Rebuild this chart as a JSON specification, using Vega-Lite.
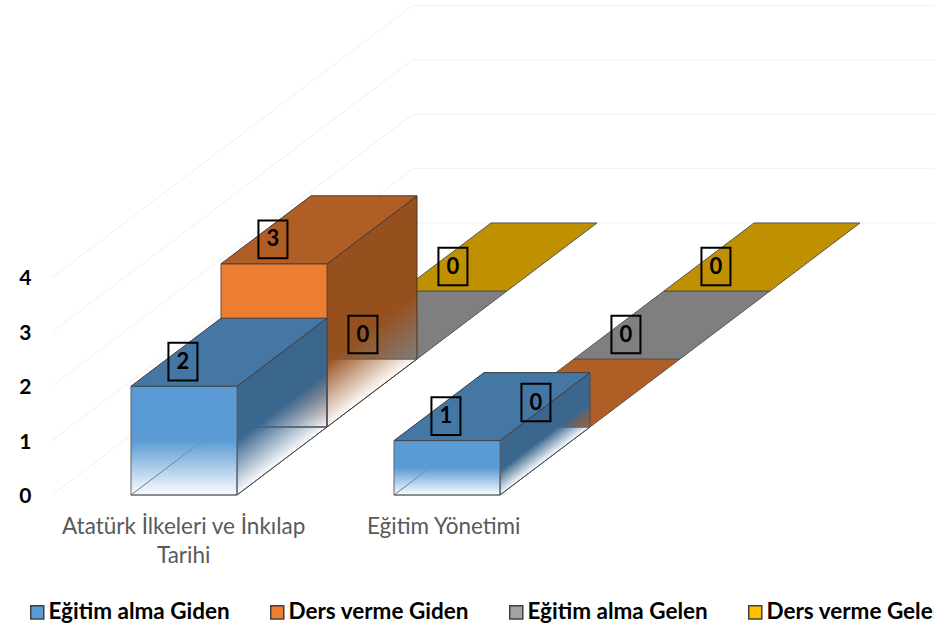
{
"$schema":"https://vega.github.io/schema/vega-lite/v6.json",
"width":884,"height":495,
"autosize":"none",
"padding":{"left":50,"top":0,"right":0,"bottom":134},
"background":"white",
"config":{"view":{"stroke":null}},
"data":{"values":[
{"category":"Atatürk İlkeleri ve İnkılap Tarihi","series":"Eğitim alma Giden","value":2},
{"category":"Atatürk İlkeleri ve İnkılap Tarihi","series":"Ders verme Giden","value":3},
{"category":"Atatürk İlkeleri ve İnkılap Tarihi","series":"Eğitim alma Gelen","value":0},
{"category":"Atatürk İlkeleri ve İnkılap Tarihi","series":"Ders verme Gelen","value":0},
{"category":"Eğitim Yönetimi","series":"Eğitim alma Giden","value":1},
{"category":"Eğitim Yönetimi","series":"Ders verme Giden","value":0},
{"category":"Eğitim Yönetimi","series":"Eğitim alma Gelen","value":0},
{"category":"Eğitim Yönetimi","series":"Ders verme Gelen","value":0}
]},
"transform":[
{"calculate":"indexof(['Atatürk İlkeleri ve İnkılap Tarihi','Eğitim Yönetimi'],datum.category)","as":"cat"},
{"calculate":"indexof(['Eğitim alma Giden','Ders verme Giden','Eğitim alma Gelen','Ders verme Gelen'],datum.series)","as":"dep"},
{"calculate":"datum.cat*2.481+datum.dep*0.849","as":"x0"},
{"calculate":"datum.dep*1.25","as":"base"},
{"calculate":"datum.base+datum.value","as":"topv"},
{"calculate":"[0,1]","as":"t"},
{"flatten":["t"]}
],
"encoding":{
"x":{"field":"px","type":"quantitative","stack":null,"scale":{"domain":[-0.764,7.575],"nice":false,"zero":false},"axis":null},
"y":{"field":"py","type":"quantitative","stack":null,"scale":{"domain":[0,9.099],"nice":false,"zero":false},
"axis":{"values":[0,1,2,3,4],"title":null,"domain":false,"ticks":false,"grid":false,"labelFont":"Lato","labelFontSize":21,"labelFontWeight":"bold","labelColor":"#000000","labelPadding":19,"labelOffset":1.5,"format":"d"}}
},
"resolve":{"scale":{"color":"independent"}},
"layer":[
{"data":{"values":[{"tick":0},{"tick":1},{"tick":2},{"tick":3},{"tick":4}]},
"transform":[
{"calculate":"[-0.745,2.66,7.575]","as":"px"},
{"calculate":"[datum.tick,datum.tick+5,datum.tick+5]","as":"py"},
{"flatten":["px","py"]}
],
"mark":{"type":"line","stroke":"#f0f0f0","strokeWidth":1},
"encoding":{"detail":{"field":"tick","type":"nominal"}}},
{"transform":[{"filter":"datum.value===0"},
{"calculate":"datum.x0+datum.t*0.849","as":"px"},{"calculate":"datum.x0+1+datum.t*0.849","as":"px2"},{"calculate":"datum.topv+datum.t*1.25","as":"py"}],
"mark":{"type":"area","orient":"horizontal","stroke":"#555555","strokeWidth":1},
"encoding":{"x2":{"field":"px2"},"detail":{"field":"cat","type":"nominal"},
"color":{"field":"series","type":"nominal","legend":null,"scale":{"domain":["Eğitim alma Giden","Ders verme Giden","Eğitim alma Gelen","Ders verme Gelen"],"range":["#4577A5","#B15E26","#7F7F7F","#BF9000"]}}}},
{"transform":[{"filter":"datum.value>0"},
{"calculate":"datum.x0+datum.t*0.849","as":"px"},{"calculate":"datum.x0+1+datum.t*0.849","as":"px2"},{"calculate":"datum.base+datum.t*1.25","as":"py"},{"calculate":"datum.series+datum.cat","as":"bar"}],
"mark":{"type":"area","orient":"horizontal","fill":"transparent","stroke":"#707070","strokeWidth":1},
"encoding":{"x2":{"field":"px2"},"detail":{"field":"bar","type":"nominal"}}},
{"transform":[{"filter":"datum.value===3"},
{"calculate":"datum.x0+1+datum.t*0.849","as":"px"},{"calculate":"datum.base+datum.t*1.25","as":"py"},{"calculate":"datum.topv+datum.t*1.25","as":"py2"}],
"mark":{"type":"area","stroke":"#50321a","strokeWidth":1,"fill":{"gradient":"linear","x1":0,"y1":1,"x2":-0.2706,"y2":0.08,"stops":[{"offset":0,"color":"rgba(150,80,29,0.02)"},{"offset":0.29,"color":"rgba(150,80,29,1)"},{"offset":1,"color":"rgba(150,80,29,1)"}]}},
"encoding":{"y2":{"field":"py2"}}},
{"transform":[{"filter":"datum.value===3&&datum.t===0"},
{"calculate":"datum.x0","as":"px"},{"calculate":"datum.x0+1","as":"px2"},{"calculate":"datum.base","as":"py"},{"calculate":"datum.topv","as":"py2"}],
"mark":{"type":"rect","stroke":"#6b5040","strokeWidth":1,"fill":{"gradient":"linear","x1":0,"y1":0,"x2":0,"y2":1,"stops":[{"offset":0,"color":"rgba(237,125,49,1)"},{"offset":0.55,"color":"rgba(237,125,49,1)"},{"offset":1,"color":"rgba(237,125,49,0.02)"}]}},
"encoding":{"x2":{"field":"px2"},"y2":{"field":"py2"}}},
{"transform":[{"filter":"datum.value===2"},
{"calculate":"datum.x0+1+datum.t*0.849","as":"px"},{"calculate":"datum.base+datum.t*1.25","as":"py"},{"calculate":"datum.topv+datum.t*1.25","as":"py2"}],
"mark":{"type":"area","stroke":"#3a4a58","strokeWidth":1,"fill":{"gradient":"linear","x1":0,"y1":1,"x2":-0.3347,"y2":0.1286,"stops":[{"offset":0,"color":"rgba(59,102,142,0.02)"},{"offset":0.31,"color":"rgba(59,102,142,1)"},{"offset":1,"color":"rgba(59,102,142,1)"}]}},
"encoding":{"y2":{"field":"py2"}}},
{"transform":[{"filter":"datum.value===1"},
{"calculate":"datum.x0+1+datum.t*0.849","as":"px"},{"calculate":"datum.base+datum.t*1.25","as":"py"},{"calculate":"datum.topv+datum.t*1.25","as":"py2"}],
"mark":{"type":"area","stroke":"#3a4a58","strokeWidth":1,"fill":{"gradient":"linear","x1":0,"y1":1,"x2":-0.4246,"y2":0.236,"stops":[{"offset":0,"color":"rgba(59,102,142,0.02)"},{"offset":0.2,"color":"rgba(59,102,142,1)"},{"offset":1,"color":"rgba(59,102,142,1)"}]}},
"encoding":{"y2":{"field":"py2"}}},
{"transform":[{"filter":"datum.dep===0&&datum.t===0"},
{"calculate":"datum.x0","as":"px"},{"calculate":"datum.x0+1","as":"px2"},{"calculate":"datum.base","as":"py"},{"calculate":"datum.topv","as":"py2"}],
"mark":{"type":"rect","stroke":"#606468","strokeWidth":1,"fill":{"gradient":"linear","x1":0,"y1":0,"x2":0,"y2":1,"stops":[{"offset":0,"color":"rgba(91,155,213,1)"},{"offset":0.5,"color":"rgba(91,155,213,1)"},{"offset":1,"color":"rgba(91,155,213,0.02)"}]}},
"encoding":{"x2":{"field":"px2"},"y2":{"field":"py2"},"detail":{"field":"cat","type":"nominal"}}},
{"transform":[{"filter":"datum.value>0"},
{"calculate":"datum.x0+datum.t*0.849","as":"px"},{"calculate":"datum.x0+1+datum.t*0.849","as":"px2"},{"calculate":"datum.topv+datum.t*1.25","as":"py"},{"calculate":"datum.series+datum.cat","as":"bar"}],
"mark":{"type":"area","orient":"horizontal","stroke":"#404040","strokeWidth":1},
"encoding":{"x2":{"field":"px2"},"detail":{"field":"bar","type":"nominal"},
"color":{"field":"series","type":"nominal","legend":null,"scale":{"domain":["Eğitim alma Giden","Ders verme Giden","Eğitim alma Gelen","Ders verme Gelen"],"range":["#4577A5","#B15E26","#7F7F7F","#BF9000"]}}}},
{"transform":[{"filter":"datum.t===0"},
{"calculate":"datum.x0+0.49","as":"px"},{"calculate":"datum.topv+0.45","as":"py"}],
"mark":{"type":"point","shape":"M-1,-1.3H1V1.3H-1Z","size":841,"filled":false,"stroke":"#000000","strokeWidth":2,"opacity":1}},
{"transform":[{"filter":"datum.t===0"},
{"calculate":"datum.x0+0.49","as":"px"},{"calculate":"datum.topv+0.45","as":"py"}],
"mark":{"type":"text","font":"Lato","fontSize":22,"fontWeight":"bold","color":"#000000","baseline":"middle","align":"center"},
"encoding":{"text":{"field":"value","type":"quantitative"}}},
{"transform":[{"filter":"datum.dep===0&&datum.t===0"},
{"calculate":"datum.cat*2.453+0.497","as":"px"},{"calculate":"-0.386","as":"py"},
{"calculate":"replace(datum.category,' Tarihi','\\nTarihi')","as":"lab"}],
"mark":{"type":"text","font":"Lato","fontSize":22.5,"color":"#595959","baseline":"top","align":"center","lineBreak":"\n","lineHeight":29},
"encoding":{"text":{"field":"lab","type":"nominal"}}},
{"transform":[{"calculate":"datum.x0","as":"px"},{"calculate":"datum.base","as":"py"}],
"mark":{"type":"point","filled":true,"size":0,"shape":"square"},
"encoding":{"color":{"field":"series","type":"nominal",
"scale":{"domain":["Eğitim alma Giden","Ders verme Giden","Eğitim alma Gelen","Ders verme Gelen"],"range":["#5B9BD5","#ED7D31","#A5A5A5","#FFC000"]},
"legend":{"orient":"none","legendX":-24,"legendY":601,"direction":"horizontal","columns":4,"title":null,"symbolType":"square","symbolSize":170,"symbolStrokeColor":"#404040","symbolStrokeWidth":1.5,"symbolOpacity":1,"labelFont":"Lato","labelFontSize":22.5,"labelFontWeight":"bold","labelColor":"#000000","labelLimit":400,"columnPadding":36,"labelOffset":0}}}}
]
}
